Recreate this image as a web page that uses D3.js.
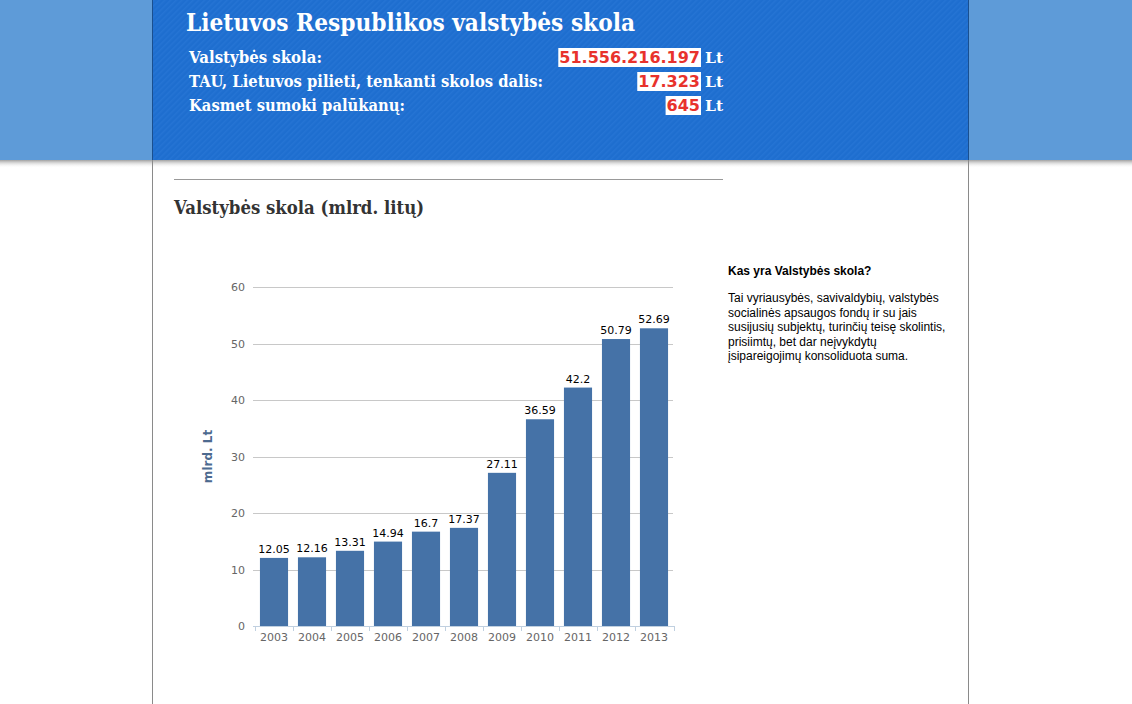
<!DOCTYPE html>
<html>
<head>
<meta charset="utf-8">
<script src="https://cdn.jsdelivr.net/npm/d3@7"></script>
<style>
  body { margin: 0; background: #fff; overflow: hidden; }
  svg { display: block; }
</style>
</head>
<body>
<div id="viz"></div>
<script>
// chart data
const years = ["2003", "2004", "2005", "2006", "2007", "2008", "2009", "2010", "2011", "2012", "2013"];
const debtValues = [12.05, 12.16, 13.31, 14.94, 16.7, 17.37, 27.11, 36.59, 42.2, 50.79, 52.69];
const yTicks = [0, 10, 20, 30, 40, 50, 60];

// header figures
const headerLabels = ["Valstybės skola:", "TAU, Lietuvos pilieti, tenkanti skolos dalis:", "Kasmet sumoki palūkanų:"];
const headerNumbers = ["51.556.216.197", "17.323", "645"];

const sideTitle = "Kas yra Valstybės skola?";
const sideLines = [
  "Tai vyriausybės, savivaldybių, valstybės",
  "socialinės apsaugos fondų ir su jais",
  "susijusių subjektų, turinčių teisę skolintis,",
  "prisiimtų, bet dar neįvykdytų",
  "įsipareigojimų konsoliduota suma."
];

const W = 1132, H = 704;
const svg = d3.select("#viz").append("svg")
  .attr("width", W)
  .attr("height", H);

const defs = svg.append("defs");

// diagonal stripes for the header box
const pat = defs.append("pattern")
  .attr("id", "stripes")
  .attr("width", 4).attr("height", 4)
  .attr("patternUnits", "userSpaceOnUse")
  .attr("patternTransform", "rotate(-45)");
pat.append("rect").attr("width", 4).attr("height", 4).attr("fill", "#1e6ecf");
pat.append("rect").attr("width", 4).attr("height", 1.5).attr("fill", "#2574d4");

const shadow = defs.append("linearGradient")
  .attr("id", "shadow").attr("x1", 0).attr("y1", 0).attr("x2", 0).attr("y2", 1);
shadow.append("stop").attr("offset", "0%").attr("stop-color", "#888").attr("stop-opacity", 0.8);
shadow.append("stop").attr("offset", "100%").attr("stop-color", "#fff").attr("stop-opacity", 0);

// page frame
svg.append("rect").attr("x", 0).attr("y", 0).attr("width", W).attr("height", 160).attr("fill", "#5e9bd8");
svg.append("rect").attr("x", 0).attr("y", 160).attr("width", W).attr("height", 8).attr("fill", "url(#shadow)");
svg.append("rect").attr("x", 152).attr("y", 0).attr("width", 817).attr("height", 160).attr("fill", "url(#stripes)");
svg.append("line").attr("x1", 152.5).attr("x2", 152.5).attr("y1", 0).attr("y2", 160).attr("stroke", "#1a4f8f");
svg.append("line").attr("x1", 968.5).attr("x2", 968.5).attr("y1", 0).attr("y2", 160).attr("stroke", "#1a4f8f");
svg.append("line").attr("x1", 152.5).attr("x2", 152.5).attr("y1", 160).attr("y2", H).attr("stroke", "#8a8a8a");
svg.append("line").attr("x1", 968.5).attr("x2", 968.5).attr("y1", 160).attr("y2", H).attr("stroke", "#8a8a8a");

const serif = "'DejaVu Serif', 'Liberation Serif', serif";
const sans = "'DejaVu Sans', Verdana, sans-serif";

// header title
svg.append("text")
  .attr("x", 186).attr("y", 31)
  .attr("fill", "#fff")
  .attr("font-family", serif).attr("font-weight", "bold")
  .attr("font-size", 25)
  .attr("textLength", 449).attr("lengthAdjust", "spacingAndGlyphs")
  .text("Lietuvos Respublikos valstybės skola");

const rowY = d3.scaleBand().domain(headerLabels).range([46, 118]);
const labelWidths = [133, 354, 216];

headerLabels.forEach((lab, i) => {
  const y = rowY(lab) + 17;
  svg.append("text")
    .attr("x", 189).attr("y", y)
    .attr("fill", "#fff")
    .attr("font-family", serif).attr("font-weight", "bold")
    .attr("font-size", 16)
    .attr("textLength", labelWidths[i]).attr("lengthAdjust", "spacingAndGlyphs")
    .text(lab);

  const num = svg.append("text")
    .attr("x", 700).attr("y", y)
    .attr("text-anchor", "end")
    .attr("fill", "#e8322c")
    .attr("font-family", sans).attr("font-weight", "bold")
    .attr("font-size", 16)
    .text(headerNumbers[i]);
  const bb = num.node().getBBox();
  svg.insert("rect", "text:last-child")
    .attr("x", bb.x - 1).attr("y", y - 15)
    .attr("width", bb.width + 2).attr("height", 19)
    .attr("fill", "#fff");
  num.raise();

  svg.append("text")
    .attr("x", 705).attr("y", y)
    .attr("fill", "#fff")
    .attr("font-family", serif).attr("font-weight", "bold")
    .attr("font-size", 15.5)
    .text("Lt");
});

// section header
svg.append("line").attr("x1", 174).attr("x2", 723).attr("y1", 179.5).attr("y2", 179.5).attr("stroke", "#999");
svg.append("text")
  .attr("x", 174).attr("y", 214)
  .attr("fill", "#333")
  .attr("font-family", serif).attr("font-weight", "bold")
  .attr("font-size", 18.5)
  .attr("textLength", 250).attr("lengthAdjust", "spacingAndGlyphs")
  .text("Valstybės skola (mlrd. litų)");

// chart
const x = d3.scaleBand().domain(years).range([255, 673]).paddingInner(0.26).paddingOuter(0.13);
const y = d3.scaleLinear().domain([0, 60]).range([626, 287]);

const grid = svg.append("g");
grid.selectAll("line").data(yTicks).enter().append("line")
  .attr("x1", 253).attr("x2", 673)
  .attr("y1", d => Math.round(y(d)) + 0.5).attr("y2", d => Math.round(y(d)) + 0.5)
  .attr("stroke", "#c8c8c8");

svg.append("g").selectAll("text").data(yTicks).enter().append("text")
  .attr("x", 245).attr("y", d => y(d) + 4)
  .attr("text-anchor", "end")
  .attr("fill", "#666")
  .attr("font-family", sans).attr("font-size", 11)
  .text(d => d);

svg.append("text")
  .attr("transform", `translate(212, ${(y(0) + y(60)) / 2}) rotate(-90)`)
  .attr("text-anchor", "middle")
  .attr("fill", "#4d6a8f")
  .attr("font-family", sans).attr("font-weight", "bold").attr("font-size", 12)
  .text("mlrd. Lt");

svg.append("g").selectAll("rect").data(years).enter().append("rect")
  .attr("x", d => x(d))
  .attr("y", (d, i) => y(debtValues[i]))
  .attr("width", x.bandwidth())
  .attr("height", (d, i) => y(0) - y(debtValues[i]))
  .attr("fill", "#4572a7");

svg.append("g").selectAll("text").data(years).enter().append("text")
  .attr("x", d => x(d) + x.bandwidth() / 2)
  .attr("y", (d, i) => y(debtValues[i]) - 5)
  .attr("text-anchor", "middle")
  .attr("fill", "#000")
  .attr("font-family", sans).attr("font-size", 11)
  .text((d, i) => debtValues[i]);

// x axis line and tick marks at band edges
svg.append("line").attr("x1", 253).attr("x2", 674).attr("y1", 626.5).attr("y2", 626.5).attr("stroke", "#c0d0e0");
const edges = years.map(d => x(d) - x.step() * x.paddingInner() / 2).concat([673.5]);
svg.append("g").selectAll("line").data(edges).enter().append("line")
  .attr("x1", d => Math.round(d) + 0.5).attr("x2", d => Math.round(d) + 0.5)
  .attr("y1", 626).attr("y2", 631)
  .attr("stroke", "#c0d0e0");

svg.append("g").selectAll("text").data(years).enter().append("text")
  .attr("x", d => x(d) + x.bandwidth() / 2)
  .attr("y", 641)
  .attr("text-anchor", "middle")
  .attr("fill", "#666")
  .attr("font-family", sans).attr("font-size", 11)
  .text(d => d);

// side note
svg.append("text")
  .attr("x", 728).attr("y", 275)
  .attr("fill", "#000")
  .attr("font-family", "'Liberation Sans', Arial, sans-serif").attr("font-weight", "bold")
  .attr("font-size", 12)
  .text(sideTitle);

svg.append("g").selectAll("text").data(sideLines).enter().append("text")
  .attr("x", 728).attr("y", (d, i) => 302 + i * 14.6)
  .attr("fill", "#000")
  .attr("font-family", "'Liberation Sans', Arial, sans-serif")
  .attr("font-size", 12)
  .text(d => d);
</script>
</body>
</html>
